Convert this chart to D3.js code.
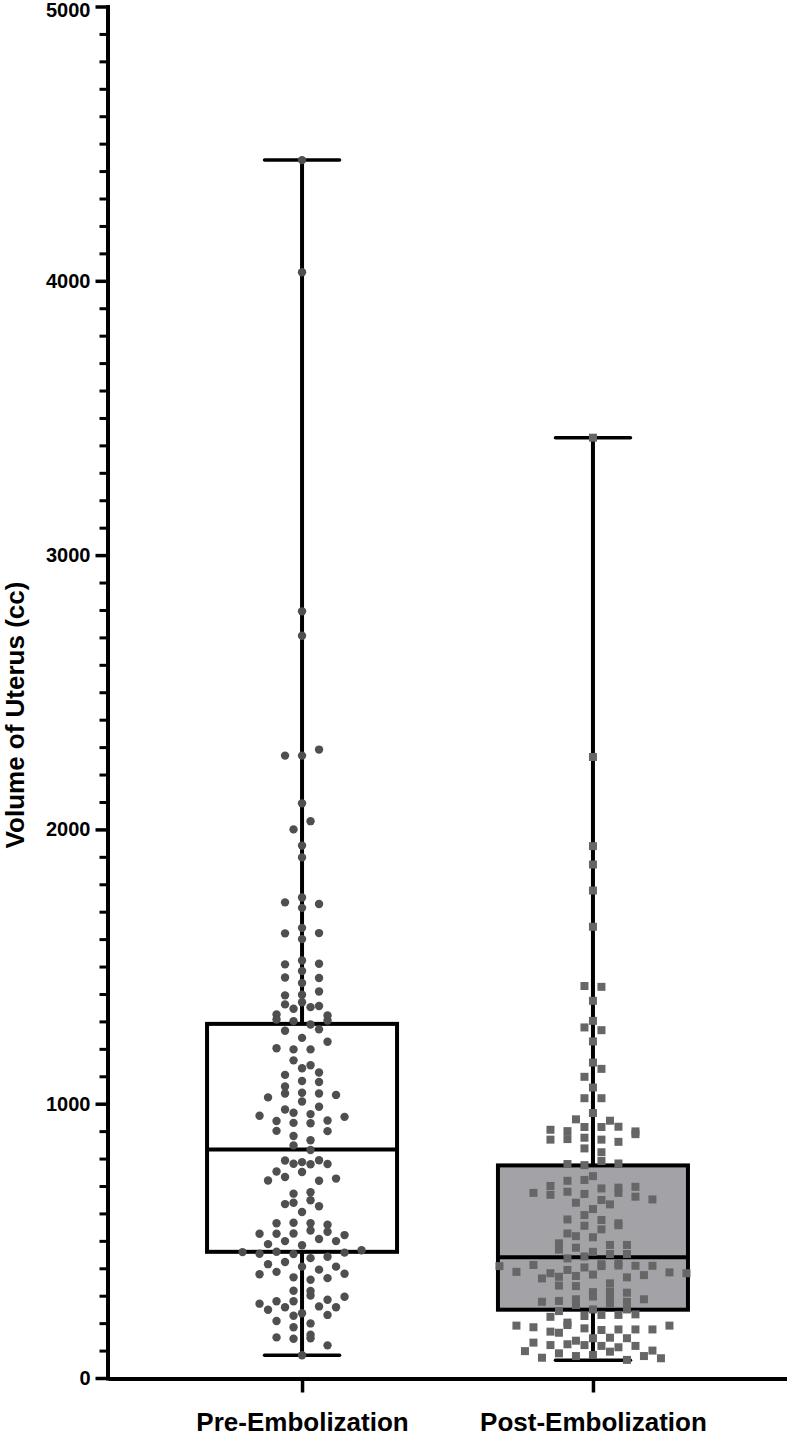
<!DOCTYPE html>
<html><head><meta charset="utf-8">
<script src="https://cdn.jsdelivr.net/npm/d3@7"></script>
<style>body{margin:0;background:#fff}svg{display:block}</style>
</head><body>
<svg id="chart" width="787" height="1436"></svg>
<script>
// ---------- data ----------
const categories = ["Pre-Embolization", "Post-Embolization"];

const preValues = [
  526, 459, 271,
  1362, 1325, 1063, 1023, 956, 793, 564, 526, 488, 453, 415, 378, 280,
  1734, 1621, 1508, 1460, 1395, 1346, 1307, 1202, 1105, 979, 937, 901, 787, 753, 720, 672, 634, 566, 499, 460, 423, 387, 318, 280, 249, 208, 148,
  2269, 2000, 1752, 1714, 1600, 1522, 1484, 1301, 1266, 1198, 1129, 1083, 1037, 967, 930, 882, 848, 781, 733, 639, 564, 484, 452, 406, 367, 301, 258, 227, 185, 143,
  4440, 4031, 2795, 2706, 2095, 1941, 1898, 83,
  2269, 2030, 1641, 1440, 1397, 1352, 1289, 1240, 1198, 1158, 1114, 1079, 1040, 1008, 962, 929, 867, 831, 794, 751, 719, 648, 605, 559, 527, 437, 395, 358, 317, 285, 236, 199, 145,
  2291, 1728, 1622, 1510, 1458, 1409, 1370, 1303, 1271, 1226, 1140, 1037, 939, 900, 779, 727, 677, 626, 538, 507, 442, 406, 364, 296, 261, 230, 158, 119,
  1356, 1322, 1032, 989, 952, 780, 533, 499, 457, 380, 258,
  521, 466
];

const postValues = [
  408, 191,
  675, 468, 436, 387, 278, 185, 129, 98,
  943, 905, 869, 668, 475, 412, 382, 337, 281, 223, 165, 120, 74,
  900, 871, 679, 578, 527, 491, 460, 394, 363, 287, 244, 202, 169, 123, 90, 780,
  915, 876, 837, 671, 639, 594, 555, 517, 452, 403, 369, 297, 266, 226, 193, 120, 80, 1278,
  1429, 1020, 776,
  3428, 2264, 1939, 1872, 1777, 1645, 1375, 1302, 1268, 1227, 1150, 1098, 1059, 966, 915, 869, 823, 736, 700, 649, 616, 576, 542, 513, 408, 372, 335, 297, 230, 181, 117, 84,
  1426, 1020, 791,
  916, 861, 719, 675, 633, 564, 443, 410, 377, 345, 313, 250, 175, 136, 96, 66, 1127,
  938, 899, 722, 691, 557, 485, 452, 409, 367, 315, 278, 230, 177, 145, 112, 80, 782,
  889, 694, 661, 485, 409, 375, 311, 272, 232, 177, 147, 117, 72,
  697, 651, 415, 385, 287, 250, 177, 145, 100,
  418, 382, 191
];

// box statistics
const boxMin    = [83, 65];
const boxQ1     = [460, 249];
const boxMedian = [833, 440];
const boxQ3     = [1291, 775];
const boxMax    = [4440, 3428];

const yMajorTicks = [0, 1000, 2000, 3000, 4000, 5000];
const yMinorStep = 100;
const yTitle = "Volume of Uterus (cc)";

// ---------- chart ----------
const svg = d3.select("#chart");
const font = "'Liberation Sans', Arial, Helvetica, sans-serif";

const y = d3.scaleLinear().domain([0, 5000]).range([1378, 6.5]);
const x = d3.scalePoint().domain(categories).range([108, 787]).padding(0.667);

const boxHalf = 95, capHalf = 37.5;
const fills = ["#ffffff", "#a3a3a7"];
const pointFill = ["#4f4f4f", "#666666"];

const stats = categories.map((c, i) => ({
  cat: c, min: boxMin[i], q1: boxQ1[i], med: boxMedian[i], q3: boxQ3[i], max: boxMax[i], fill: fills[i]
}));

const gBox = svg.append("g");
// whiskers
gBox.append("g").selectAll("line").data(stats).join("line")
  .attr("x1", d => x(d.cat)).attr("x2", d => x(d.cat))
  .attr("y1", d => y(d.min)).attr("y2", d => y(d.q1))
  .attr("stroke", "#000").attr("stroke-width", 4);
gBox.append("g").selectAll("line").data(stats).join("line")
  .attr("x1", d => x(d.cat)).attr("x2", d => x(d.cat))
  .attr("y1", d => y(d.q3)).attr("y2", d => y(d.max))
  .attr("stroke", "#000").attr("stroke-width", 4);
// caps
["min", "max"].forEach(k => {
  gBox.append("g").selectAll("line").data(stats).join("line")
    .attr("x1", d => x(d.cat) - capHalf).attr("x2", d => x(d.cat) + capHalf)
    .attr("y1", d => y(d[k])).attr("y2", d => y(d[k]))
    .attr("stroke", "#000").attr("stroke-width", 3.5).attr("stroke-linecap", "round");
});
// boxes
gBox.append("g").selectAll("rect").data(stats).join("rect")
  .attr("x", d => x(d.cat) - boxHalf).attr("width", boxHalf * 2)
  .attr("y", d => y(d.q3)).attr("height", d => y(d.q1) - y(d.q3))
  .attr("fill", d => d.fill).attr("stroke", "#000").attr("stroke-width", 4);
// medians
gBox.append("g").selectAll("line").data(stats).join("line")
  .attr("x1", d => x(d.cat) - boxHalf).attr("x2", d => x(d.cat) + boxHalf)
  .attr("y1", d => y(d.med)).attr("y2", d => y(d.med))
  .attr("stroke", "#000").attr("stroke-width", 4);

// column scatter layout (rows of nearby values spread horizontally)
function swarm(values, cat) {
  const binPx = 8.8, step = 17;
  const items = values.map((v, i) => ({ v, i, py: y(v) }));
  const sorted = items.slice().sort((a, b) => a.v - b.v || a.i - b.i);
  const rows = [];
  let cur = null;
  sorted.forEach(d => {
    if (!cur || cur.start - d.py >= binPx) { cur = { start: d.py, items: [] }; rows.push(cur); }
    cur.items.push(d);
  });
  rows.forEach(r => {
    r.items.sort((a, b) => a.i - b.i);
    const n = r.items.length;
    r.items.forEach((d, k) => { d.px = x(cat) + (k - (n - 1) / 2) * step; });
  });
  return items;
}

const prePts = swarm(preValues, categories[0]);
const postPts = swarm(postValues, categories[1]);

svg.append("g").selectAll("circle").data(prePts).join("circle")
  .attr("cx", d => d.px).attr("cy", d => d.py).attr("r", 4.2)
  .attr("fill", pointFill[0]);

svg.append("g").selectAll("rect").data(postPts).join("rect")
  .attr("x", d => d.px - 4).attr("y", d => d.py - 4)
  .attr("width", 8).attr("height", 8)
  .attr("fill", pointFill[1]);

// ---------- axes ----------
const axisX = 107.5;
const gMinor = svg.append("g").attr("transform", `translate(${axisX},0)`)
  .call(d3.axisLeft(y).tickValues(d3.range(0, 5001, yMinorStep).filter(v => v % 1000 !== 0))
    .tickSize(8).tickSizeOuter(0).tickFormat(""));
gMinor.select(".domain").remove();
gMinor.selectAll(".tick line").attr("stroke", "#000").attr("stroke-width", 3);

const gY = svg.append("g").attr("transform", `translate(${axisX},0)`)
  .call(d3.axisLeft(y).tickValues(yMajorTicks).tickFormat(d3.format("d"))
    .tickSize(12).tickSizeOuter(0).tickPadding(5));
gY.select(".domain").attr("stroke", "#000").attr("stroke-width", 4).attr("stroke-linecap", "square");
gY.selectAll(".tick line").attr("stroke", "#000").attr("stroke-width", 3.5);
gY.selectAll(".tick text").attr("font-family", font).attr("font-weight", "bold")
  .attr("font-size", 20).attr("fill", "#000")
  .attr("dy", d => d === 5000 ? "0.52em" : "0.32em");

const gX = svg.append("g").attr("transform", `translate(0,1378.5)`)
  .call(d3.axisBottom(x).tickSize(14).tickSizeOuter(0).tickPadding(20));
gX.select(".domain").attr("stroke", "#000").attr("stroke-width", 4);
gX.selectAll(".tick line").attr("stroke", "#000").attr("stroke-width", 3.5);
gX.selectAll(".tick text").attr("font-family", font).attr("font-weight", "bold")
  .attr("font-size", 26).attr("fill", "#000");

svg.append("text")
  .attr("transform", "translate(24,715) rotate(-90)")
  .attr("text-anchor", "middle")
  .attr("font-family", font).attr("font-weight", "bold").attr("font-size", 26)
  .attr("fill", "#000")
  .text(yTitle);
</script>
</body></html>
